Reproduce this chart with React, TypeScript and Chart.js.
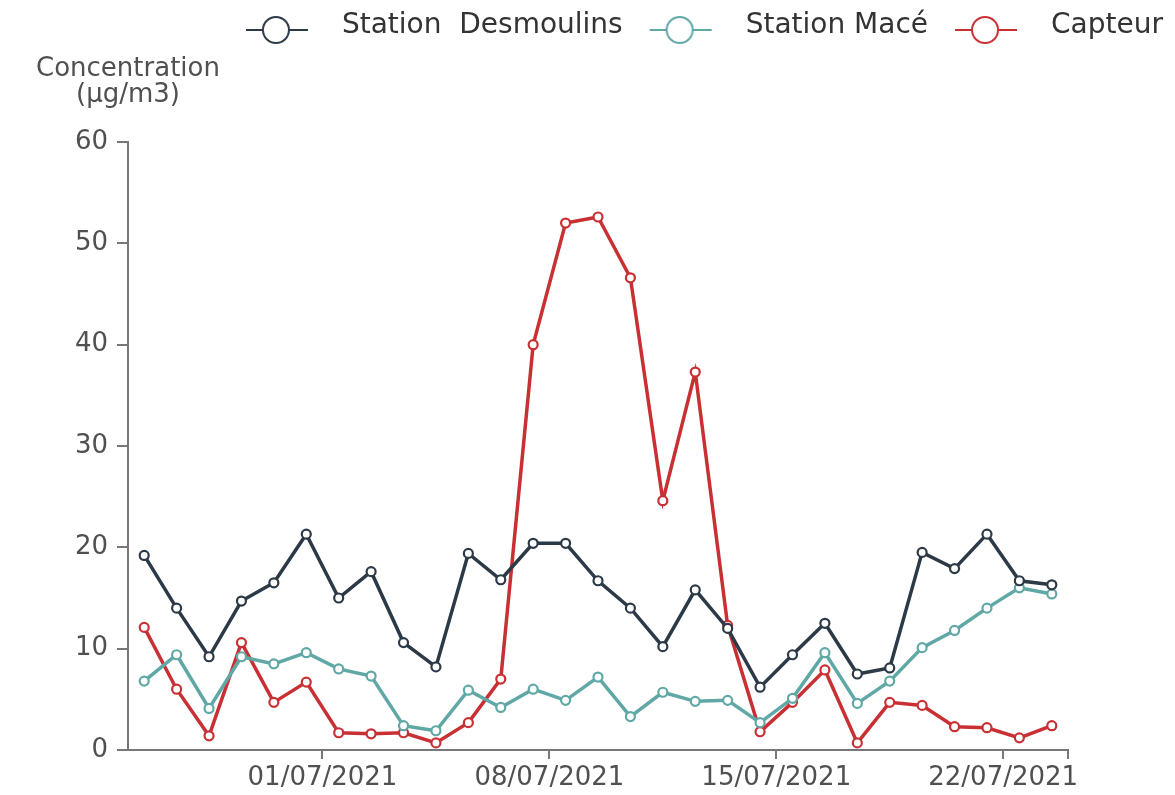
import React, { useEffect, useRef } from 'react';
import { Chart, registerables, layouts } from 'chart.js';

Chart.register(...registerables);

// ---- Data ----
const days = [
  '25/06/2021', '26/06/2021', '27/06/2021', '28/06/2021', '29/06/2021', '30/06/2021',
  '01/07/2021', '02/07/2021', '03/07/2021', '04/07/2021', '05/07/2021', '06/07/2021',
  '07/07/2021', '08/07/2021', '09/07/2021', '10/07/2021', '11/07/2021', '12/07/2021',
  '13/07/2021', '14/07/2021', '15/07/2021', '16/07/2021', '17/07/2021', '18/07/2021',
  '19/07/2021', '20/07/2021', '21/07/2021', '22/07/2021', '23/07/2021',
];
const tickDays = ['01/07/2021', '08/07/2021', '15/07/2021', '22/07/2021'];
const yTicks = [0, 10, 20, 30, 40, 50, 60];

const desmoulins = [19.2, 14.0, 9.2, 14.7, 16.5, 21.3, 15.0, 17.6, 10.6, 8.2, 19.4, 16.8, 20.4, 20.4, 16.7, 14.0, 10.2, 15.8, 12.0, 6.2, 9.4, 12.5, 7.5, 8.1, 19.5, 17.9, 21.3, 16.7, 16.3];
const mace = [6.8, 9.4, 4.1, 9.2, 8.5, 9.6, 8.0, 7.3, 2.4, 1.9, 5.9, 4.2, 6.0, 4.9, 7.2, 3.3, 5.7, 4.8, 4.9, 2.7, 5.1, 9.6, 4.6, 6.8, 10.1, 11.8, 14.0, 16.0, 15.4];
const capteur = [12.1, 6.0, 1.4, 10.6, 4.7, 6.7, 1.7, 1.6, 1.7, 0.7, 2.7, 7.0, 40.0, 52.0, 52.6, 46.6, 24.6, 37.3, 12.3, 1.8, 4.7, 7.9, 0.7, 4.7, 4.4, 2.3, 2.2, 1.2, 2.4];

const seriesNames = ['Station  Desmoulins', 'Station Macé', 'Capteur'];
const seriesValues = [desmoulins, mace, capteur];
const seriesColors = ['#2c3947', '#5fa8a6', '#c93034'];
const yTitleLines = ['Concentration', '(µg/m3)'];

const FONT = "'DejaVu Sans', sans-serif";
const TEXT_COLOR = '#505050';
const AXIS_COLOR = '#777777';

function makeMarker(color: string): HTMLCanvasElement {
  const c = document.createElement('canvas');
  c.width = 105;
  c.height = 36;
  const ctx = c.getContext('2d')!;
  const cx = 53;
  const cy = 22;
  ctx.strokeStyle = color;
  ctx.lineWidth = 2;
  ctx.beginPath();
  ctx.moveTo(cx - 30, cy);
  ctx.lineTo(cx + 32, cy);
  ctx.stroke();
  ctx.beginPath();
  ctx.arc(cx, cy, 13, 0, Math.PI * 2);
  ctx.fillStyle = '#ffffff';
  ctx.fill();
  ctx.stroke();
  return c;
}

const layoutPlugin = {
  id: 'axisTitleSpace',
  beforeInit(chart: any) {
    const topBox: any = {
      position: 'top',
      weight: 500,
      fullSize: true,
      options: {},
      left: 0, top: 0, right: 0, bottom: 0, width: 0, height: 0,
      update(maxWidth: number) {
        this.width = maxWidth;
        this.height = 92;
      },
      isHorizontal() { return true; },
      draw() {
        const ctx = chart.ctx;
        const x = chart.scales.y.right;
        const y0 = chart.chartArea.top;
        ctx.save();
        ctx.font = `26px ${FONT}`;
        ctx.fillStyle = TEXT_COLOR;
        ctx.textAlign = 'center';
        ctx.textBaseline = 'middle';
        yTitleLines.forEach((t, i) => ctx.fillText(t, x, y0 - 73 + i * 26));
        ctx.restore();
      },
    };
    const rightBox: any = {
      position: 'right',
      weight: 0,
      fullSize: false,
      options: {},
      left: 0, top: 0, right: 0, bottom: 0, width: 0, height: 0,
      update(_w: number, maxHeight: number) {
        this.width = 99;
        this.height = maxHeight;
      },
      isHorizontal() { return false; },
      draw() {},
    };
    layouts.addBox(chart, topBox);
    layouts.addBox(chart, rightBox);
  },
};

export default function App() {
  const ref = useRef<HTMLCanvasElement>(null);

  useEffect(() => {
    const markers = seriesColors.map(makeMarker);
    const datasets = seriesNames.map((name, s) => ({
      label: name,
      data: seriesValues[s].map((v, i) => ({ x: i + 0.5, y: v })),
      borderColor: seriesColors[s],
      backgroundColor: '#ffffff',
      borderWidth: 3.5,
      pointRadius: 4.5,
      pointBorderWidth: 2.2,
      pointBackgroundColor: '#ffffff',
      pointBorderColor: seriesColors[s],
      tension: 0,
    }));

    const tickFont = { family: FONT, size: 26 };

    const chart = new Chart(ref.current!, {
      type: 'line',
      data: { datasets },
      plugins: [layoutPlugin],
      options: {
        animation: false,
        responsive: false,
        layout: { padding: 0 },
        plugins: {
          tooltip: { enabled: false },
          legend: {
            position: 'top',
            align: 'end',
            labels: {
              usePointStyle: true,
              pointStyleWidth: 105,
              boxHeight: 28,
              padding: 4,
              color: '#333333',
              font: { family: FONT, size: 28 },
              generateLabels: (c: any) => {
                const items = (Chart.defaults.plugins.legend.labels as any).generateLabels(c);
                items.forEach((it: any, i: number) => { it.pointStyle = markers[i]; });
                return items;
              },
            },
          },
        },
        scales: {
          x: {
            type: 'linear',
            min: 0,
            max: days.length,
            afterBuildTicks: (s: any) => {
              s.ticks = [...tickDays.map((d) => ({ value: days.indexOf(d) })), { value: days.length }];
            },
            afterFit: (s: any) => { s.height = 37; },
            ticks: {
              autoSkip: false,
              maxRotation: 0,
              padding: 4,
              color: TEXT_COLOR,
              font: tickFont,
              callback: (v: any) => {
                const d = days[v as number];
                return d && tickDays.includes(d) ? d : '';
              },
            },
            grid: { drawOnChartArea: false, drawTicks: true, tickLength: 9, color: AXIS_COLOR, lineWidth: 2 },
            border: { display: true, color: AXIS_COLOR, width: 2 },
          },
          y: {
            type: 'linear',
            min: yTicks[0],
            max: yTicks[yTicks.length - 1],
            afterBuildTicks: (s: any) => { s.ticks = yTicks.map((v) => ({ value: v })); },
            afterFit: (s: any) => { s.width = 120; },
            ticks: { padding: 9, color: TEXT_COLOR, font: tickFont },
            grid: { drawOnChartArea: false, drawTicks: true, tickLength: 11, color: AXIS_COLOR, lineWidth: 2 },
            border: { display: true, color: AXIS_COLOR, width: 2 },
          },
        },
      } as any,
    });
    return () => chart.destroy();
  }, []);

  return (
    <div style={{ width: 1159, height: 779 }}>
      <canvas ref={ref} width={1159} height={779} style={{ display: 'block' }} />
    </div>
  );
}
